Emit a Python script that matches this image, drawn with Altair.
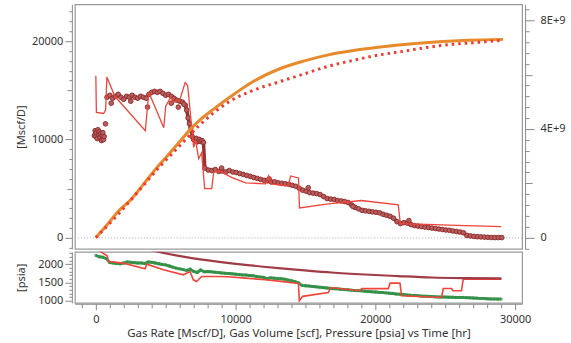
import altair as alt
import pandas as pd

FONT = "Noto Sans"

# ---------------- measured gas rate (circles) [Mscf/D] ----------------
# early cluster
cluster_t = [-100, -50, 0, 50, 100, 150, 200, 250, 300, 350, 400, 450, 500, 550, 600, 690]
cluster_q = [10400, 10900, 10300, 10700, 10100, 11000, 10500, 10800, 10200, 10600, 9900, 10400, 10700, 10000, 10300, 11600]
# main measured series
rate_t = [800, 1000, 1200, 1400, 1600, 1800, 2000, 2200, 2400, 2600, 2800, 3000, 3200, 3400,
          3600, 3800, 4000, 4200, 4400, 4600, 4800, 5000, 5200, 5400, 5600, 5800, 6000, 6200, 6400,
          6500, 6600, 6700, 6800, 6900, 7000, 7100, 7200, 7300, 7400, 7500, 7600, 7700,
          7800, 8050, 8300, 8550, 8800, 9050, 9300, 9550, 9800, 10050, 10300, 10550, 10800,
          11050, 11300, 11550, 11800, 12050, 12300, 12550, 12800, 13050, 13300, 13550, 13800,
          14050, 14300, 14550, 14800, 15050, 15300, 15550, 15800, 16050, 16300, 16550, 16800,
          17050, 17300, 17550, 17800, 18050, 18300, 18550, 18800, 19050, 19300, 19550, 19800,
          20050, 20300, 20550, 20800, 21050, 21300, 21550, 21800, 22050, 22300, 22550, 22800,
          23050, 23300, 23550, 23800, 24050, 24300, 24550, 24800, 25050, 25300, 25550, 25800,
          26050, 26300, 26550, 26800, 27050, 27300, 27550, 27800, 28050, 28300, 28550, 28800, 29050]
rate_q = [14300, 14500, 14200, 14400, 14600, 14300, 14100, 14400, 14300, 14500, 14300, 14200, 14400, 14300,
          14200, 14600, 14800, 14900, 14800, 14900, 14700, 14500, 14600, 14400, 14200, 14000, 13900, 13800, 13500,
          13000, 12200, 11600, 11200, 10300, 10000, 9900, 10100, 9800, 10000, 9800, 9900, 9700,
          7100, 6900, 6850, 6950, 6750, 6800, 6700, 6850, 6700, 6650, 6550, 6450, 6350,
          6250, 6150, 6050, 5950, 5850, 5800, 5700, 5700, 5600, 5550, 5500, 5450,
          5350, 5250, 5050, 4850, 4750, 4600, 4550, 4500, 4400, 4200, 4000, 3950,
          3900, 3800, 3750, 3700, 3600, 3350, 3100, 2950, 2800, 2750, 2700, 2650,
          2600, 2550, 2400, 2300, 2200, 2000, 1650, 1450, 1550, 1500, 1350, 1250,
          1200, 1150, 1100, 1050, 1000, 950, 900, 850, 800, 770, 700, 650,
          600, 520, 250, 200, 150, 120, 100, 80, 60, 40, 30, 30, 30]
# scattered measured points off the main band
out_t = [1100, 2500, 3700, 5400, 5900, 6300, 9000, 12400, 15200, 18400, 22400]
out_q = [13700, 13900, 13300, 13700, 13300, 13600, 7100, 6000, 5100, 3200, 1750]

# ---------------- simulated gas rate (red line) ----------------
sim_rate_t = [0, 40, 560, 700, 790, 1360, 3540, 3790, 4860, 5000, 5360, 5570, 6000, 6390, 6570,
              7000, 7140, 7360, 7570, 7790, 8290, 8430, 8790, 9710, 10710, 12140, 12360, 12500,
              13790, 13930, 14500, 14570, 16640, 19000, 21640, 21790, 24290, 25210, 29000]
sim_rate_q = [16500, 12750, 12650, 13000, 16350, 14400, 10900, 14800, 11200, 13400, 14300, 13800, 14000, 15800, 15500,
              9200, 9900, 8050, 8650, 5000, 5000, 6650, 6850, 6150, 5600, 5500, 6300, 5500,
              5300, 6300, 6100, 3050, 3450, 3800, 3350, 1450, 1350, 1300, 1150]

# ---------------- cumulative gas volume [scf] ----------------
cum_t = [0, 930, 1640, 2570, 3430, 4290, 5000, 5930, 6860, 7360, 8430, 9500, 11290, 13070,
         14860, 16640, 18430, 20210, 23070, 26640, 29140]
cum_v = [0, 0.55e9, 0.99e9, 1.43e9, 1.98e9, 2.53e9, 2.94e9, 3.49e9, 4.04e9, 4.29e9, 4.73e9, 5.14e9,
         5.76e9, 6.20e9, 6.50e9, 6.73e9, 6.89e9, 7.01e9, 7.16e9, 7.27e9, 7.30e9]
sim_cum_t = [0, 1640, 3070, 4500, 5930, 7360, 9500, 11290, 13070, 14860, 16640, 18430, 20210,
             22000, 23790, 25570, 27360, 29140]
sim_cum_v = [0, 0.88e9, 1.72e9, 2.57e9, 3.34e9, 4.11e9, 4.99e9, 5.43e9, 5.73e9, 6.02e9, 6.31e9,
             6.53e9, 6.72e9, 6.86e9, 7.01e9, 7.12e9, 7.19e9, 7.27e9]

# ---------------- pressure [psia] ----------------
p_meas_t = [0, 250, 500, 750, 1000, 1250, 1500, 1750, 2000, 2250, 2500, 2750, 3000, 3250, 3500, 3750,
            4000, 4250, 4500, 4750, 5000, 5250, 5500, 5750, 6000, 6250, 6500, 6750, 7000, 7250, 7500, 7750,
            8000, 8250, 8500, 8750, 9000, 9250, 9500, 9750, 10000, 10250, 10500, 10750, 11000, 11250,
            11500, 11750, 12000, 12250, 12500, 12750, 13000, 13250, 13500, 13750, 14000, 14250, 14500,
            14750, 15000, 15250, 15500, 15750, 16000, 16250, 16500, 16750, 17000, 17250, 17500, 17750,
            18000, 18250, 18500, 18750, 19000, 19250, 19500, 19750, 20000, 20250, 20500, 20750, 21000,
            21250, 21500, 21750, 22000, 22250, 22500, 22750, 23000, 23250, 23500, 23750, 24000, 24250,
            24500, 24750, 25000, 25250, 25500, 25750, 26000, 26250, 26500, 26750, 27000, 27250, 27500,
            27750, 28000, 28250, 28500, 28750, 29000]
p_meas = [2240, 2200, 2190, 2150, 2040, 2030, 2020, 2010, 2030, 2060, 2050, 2040, 2030, 2030, 2020, 2060,
          2050, 2030, 2010, 1990, 1980, 1950, 1920, 1890, 1870, 1850, 1830, 1860, 1800, 1770, 1840, 1790,
          1800, 1790, 1780, 1770, 1760, 1750, 1745, 1735, 1725, 1715, 1705, 1700, 1690, 1680,
          1665, 1650, 1640, 1600, 1625, 1615, 1605, 1600, 1590, 1565, 1545, 1520, 1490,
          1420, 1410, 1400, 1390, 1380, 1370, 1360, 1350, 1340, 1330, 1325, 1315, 1305,
          1300, 1290, 1280, 1275, 1270, 1260, 1255, 1245, 1240, 1230, 1225, 1215, 1205,
          1195, 1185, 1180, 1170, 1160, 1150, 1145, 1140, 1130, 1125, 1120, 1115, 1110,
          1105, 1100, 1100, 1095, 1095, 1090, 1090, 1090, 1085, 1080, 1075, 1070, 1065,
          1060, 1055, 1050, 1050, 1045, 1045]
p_sim_t = [0, 810, 910, 1980, 3520, 3640, 4840, 6260, 6740, 6980, 7210, 7570, 8640, 9500, 10690,
           12120, 13070, 14500, 14560, 14800, 16640, 16800, 18900, 19020, 20930, 21050, 21760,
           21880, 24740, 24860, 25450, 25550, 26160, 26290, 29020]
p_sim = [2420, 2226, 2071, 2027, 1870, 2000, 1845, 1708, 1798, 1572, 1526, 1662, 1662, 1654, 1618,
         1572, 1537, 1472, 1000, 1120, 1226, 1362, 1273, 1335, 1330, 1482, 1482,
         1136, 1090, 1335, 1335, 1273, 1273, 1591, 1590]
p_avg_t = [0, 1500, 3000, 4200, 5930, 8310, 10690, 13070, 14500, 16880, 19260, 21640, 24020, 26410, 29020]
p_avg = [2900, 2650, 2480, 2362, 2226, 2090, 1981, 1891, 1845, 1771, 1717, 1673, 1635, 1619, 1612]

X_TITLE = "Gas Rate [Mscf/D], Gas Volume [scf], Pressure [psia] vs Time [hr]"

df_rate = pd.DataFrame({"t": rate_t, "q": rate_q})
df_allpts = pd.DataFrame({"t": cluster_t + rate_t + out_t, "q": cluster_q + rate_q + out_q})
df_simrate = pd.DataFrame({"t": sim_rate_t, "q": sim_rate_q})
df_cum = pd.DataFrame({"t": cum_t, "v": cum_v})
df_simcum = pd.DataFrame({"t": sim_cum_t, "v": sim_cum_v})
df_pm = pd.DataFrame({"t": p_meas_t, "p": p_meas})
df_ps = pd.DataFrame({"t": p_sim_t, "p": p_sim})
df_pa = pd.DataFrame({"t": p_avg_t, "p": p_avg})

xs = alt.Scale(domain=[-1500, 30500], nice=False, zero=False)
rate_scale = alt.Scale(domain=[-1117, 23756], nice=False, zero=False)
cum_scale = alt.Scale(domain=[-415000000, 8592000000], nice=False, zero=False)
p_scale = alt.Scale(domain=[945, 2335], nice=False, zero=False)

common = dict(domainColor="#8a8a8a", tickColor="#8a8a8a", labelColor="#333333",
              titleColor="#333333", labelFont=FONT, titleFont=FONT, labelFontSize=11,
              titleFontSize=11, titleFontWeight="normal", grid=False)

left_rate_axis = alt.Axis(
    title="[Mscf/D]", values=list(range(-1000, 24000, 1000)),
    labelExpr="datum.value % 10000 == 0 ? format(datum.value, 'd') : ''",
    tickSize=alt.ExprRef(expr="datum.value % 10000 == 0 ? 7 : (datum.value % 5000 == 0 ? 5 : 3)"),
    offset=3, labelPadding=2, minExtent=40, maxExtent=40, titlePadding=5, **common)

right_axis = alt.Axis(
    title="", orient="right", values=[i * 400000000 for i in range(-1, 22)],
    labelExpr="datum.value == 0 ? '0' : (datum.value % 4000000000 == 0 ? format(datum.value / 1e9, 'd') + 'E+9' : '')",
    tickSize=alt.ExprRef(expr="datum.value % 4000000000 == 0 ? 9 : (datum.value % 2000000000 == 0 ? 7 : 4)"),
    offset=3, labelPadding=6, **common)

p_axis = alt.Axis(
    title="[psia]", values=list(range(1000, 2400, 100)),
    labelExpr="datum.value % 500 == 0 ? format(datum.value, 'd') : ''",
    tickSize=alt.ExprRef(expr="datum.value % 500 == 0 ? 7 : 3"),
    offset=3, labelPadding=2, minExtent=40, maxExtent=40, titlePadding=5, **common)

x_axis = alt.Axis(
    title=X_TITLE, values=list(range(-1000, 31000, 1000)),
    labelExpr="datum.value % 10000 == 0 ? format(datum.value, 'd') : ''",
    tickSize=alt.ExprRef(expr="datum.value % 10000 == 0 ? 6 : 4"),
    offset=1, labelPadding=4, titlePadding=3, **{**common, "titleFontSize": 11.5})

x_top = alt.X("t:Q", scale=xs, axis=None)

zero = alt.Chart(pd.DataFrame({"q": [0]})).mark_rule(
    color="#aaaaaa", strokeDash=[1, 2], strokeWidth=1
).encode(y=alt.Y("q:Q", scale=rate_scale, axis=left_rate_axis))

band = alt.Chart(df_rate).mark_line(color="#963434", strokeWidth=3.5).encode(
    x=x_top, y=alt.Y("q:Q", scale=rate_scale, axis=left_rate_axis))

circles = alt.Chart(df_allpts).mark_point(
    shape="circle", filled=True, size=22, fill="#b85c5c", stroke="#8b2a2a", strokeWidth=0.9, opacity=1
).encode(x=x_top, y=alt.Y("q:Q", scale=rate_scale, axis=left_rate_axis))

simrate = alt.Chart(df_simrate).mark_line(color="#f0443a", strokeWidth=1.3).encode(
    x=x_top, y=alt.Y("q:Q", scale=rate_scale, axis=left_rate_axis))

cum_orange = alt.Chart(df_cum).mark_line(color="#e8892c", strokeWidth=3, interpolate="monotone").encode(
    x=x_top, y=alt.Y("v:Q", scale=cum_scale, axis=right_axis))

cum_dot = alt.Chart(df_simcum).mark_line(
    color="#f03c30", strokeWidth=3, strokeDash=[2.5, 4], interpolate="monotone"
).encode(x=x_top, y=alt.Y("v:Q", scale=cum_scale, axis=right_axis))

top = alt.layer(
    alt.layer(zero, band, circles, simrate),
    alt.layer(cum_orange, cum_dot),
).resolve_scale(y="independent").properties(width=448, height=245)

x_bot = alt.X("t:Q", scale=xs, axis=x_axis)

green_line = alt.Chart(df_pm).mark_line(color="#3c9a50", strokeWidth=3, clip=True).encode(
    x=x_bot, y=alt.Y("p:Q", scale=p_scale, axis=p_axis))
green_pts = alt.Chart(df_pm).mark_point(shape="square", filled=True, size=8, color="#2f8a44", clip=True).encode(
    x=x_bot, y=alt.Y("p:Q", scale=p_scale, axis=p_axis))
sim_p = alt.Chart(df_ps).mark_line(color="#f0443a", strokeWidth=1.6, clip=True).encode(
    x=x_bot, y=alt.Y("p:Q", scale=p_scale, axis=p_axis))
avg_p = alt.Chart(df_pa).mark_line(color="#a03c46", strokeWidth=2.2, clip=True, interpolate="monotone").encode(
    x=x_bot, y=alt.Y("p:Q", scale=p_scale, axis=p_axis))

bottom = alt.layer(green_line, green_pts, sim_p, avg_p).properties(width=448, height=51)

chart = alt.vconcat(top, bottom, spacing=0).properties(
    padding={"left": 15, "top": 3, "right": 5, "bottom": 2}
).configure(background="white").configure_view(stroke="#999999", strokeWidth=1.2)

chart.save("out.html", embed_options={"renderer": "svg", "actions": False})
